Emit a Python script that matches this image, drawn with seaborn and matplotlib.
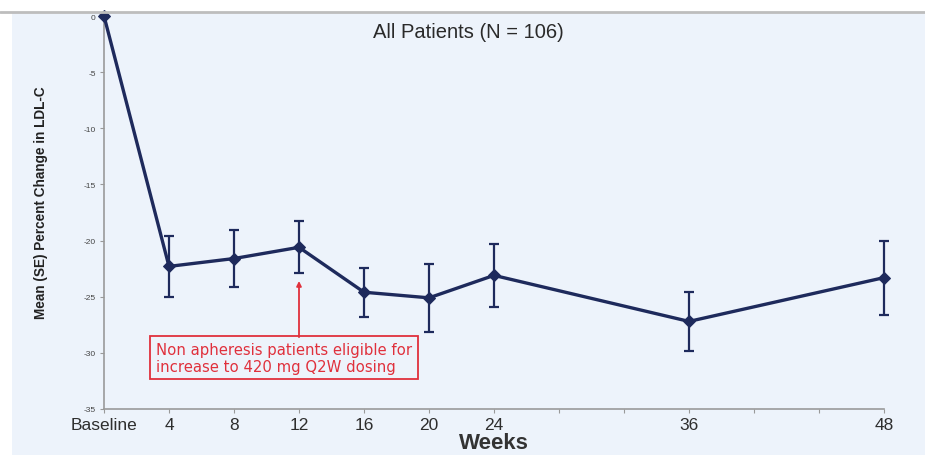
import matplotlib
matplotlib.use("Agg")
import matplotlib.pyplot as plt
from matplotlib.patches import Rectangle
from matplotlib.lines import Line2D
import seaborn as sns
import pandas as pd

# Mean percent change in LDL-C from baseline, with standard errors
weeks = [0, 4, 8, 12, 16, 20, 24, 36, 48]
mean_change = [0.0, -22.3, -21.6, -20.6, -24.6, -25.1, -23.1, -27.2, -23.3]
se = [0.0, 2.7, 2.5, 2.3, 2.2, 3.0, 2.8, 2.6, 3.3]
tick_weeks = [0, 4, 8, 12, 16, 20, 24, 28, 32, 36, 40, 44, 48]
tick_labels = ["Baseline", "4", "8", "12", "16", "20", "24", "", "", "36", "", "", "48"]
y_ticks = [0, -5, -10, -15, -20, -25, -30, -35]

title = "All Patients (N = 106)"
note = "Non apheresis patients eligible for\nincrease to 420 mg Q2W dosing"
note_week = 12

sns.set_theme(style="white")
plt.rcParams["font.family"] = ["Liberation Sans", "DejaVu Sans"]

bg = "#edf3fb"
navy = "#1e2a5c"
red = "#e0303c"

df = pd.DataFrame({"week": weeks, "change": mean_change, "se": se})

fig = plt.figure(figsize=(9.25, 4.56), dpi=100)
fig.patch.set_facecolor("white")
# light panel behind the chart, with a thin grey rule along its top edge
fig.patches.append(Rectangle((12 / 925, 0), 1 - 12 / 925, 1 - 14 / 456,
                             transform=fig.transFigure, facecolor=bg,
                             edgecolor="none", zorder=-10))
fig.lines.append(Line2D([0, 1], [1 - 13 / 456, 1 - 13 / 456],
                        transform=fig.transFigure, color="#bdbdbd", lw=2))

ax = fig.add_axes([104 / 925, 1 - 410 / 456, 780 / 925, 393 / 456])
ax.set_facecolor(bg)

ax.errorbar(df["week"], df["change"], yerr=df["se"], fmt="none",
            ecolor=navy, elinewidth=1.6, capsize=3.5, capthick=1.6,
            clip_on=False, zorder=3)
sns.lineplot(data=df, x="week", y="change", ax=ax, color=navy, lw=2.4,
             marker="D", markersize=6, markeredgecolor=navy,
             clip_on=False, zorder=4)

ax.set_xlim(0, 48)
ax.set_ylim(-35, 0)
ax.set_xticks(tick_weeks)
ax.set_xticklabels(tick_labels, fontsize=12.5, color="#2e2e2e")
ax.set_yticks(y_ticks)
ax.set_yticklabels([str(v) for v in y_ticks], fontsize=6, color="#444444")
ax.tick_params(axis="both", which="major", direction="out", length=3,
               width=0.8, color="#999999", bottom=True, left=True, pad=3)

for side in ("top", "right"):
    ax.spines[side].set_visible(False)
for side in ("left", "bottom"):
    ax.spines[side].set_color("#9a9a9a")
    ax.spines[side].set_linewidth(1.2)

ax.set_xlabel("Weeks", fontsize=16, fontweight="bold", color="#333333",
              labelpad=0)
ax.set_ylabel("Mean (SE) Percent Change in LDL-C", fontsize=9.8,
              fontweight="bold", color="#222222")
ax.yaxis.set_label_coords(-0.072, 0.527)

fig.text(468 / 925, 1 - 32 / 456, title, ha="center", va="center",
         fontsize=14.5, color="#2a2a2a")

# red callout for the dose change at week 12
ax.text(3.2, -30.45, note, ha="left", va="center", fontsize=10.7,
        family="DejaVu Sans", color=red, linespacing=1.15,
        bbox=dict(boxstyle="square,pad=0.38", facecolor="none",
                  edgecolor=red, linewidth=1.3))
ax.annotate("", xy=(note_week, -23.6), xytext=(note_week, -28.6),
            arrowprops=dict(arrowstyle="-|>", color=red, lw=1.3,
                            mutation_scale=7, shrinkA=0, shrinkB=0))

fig.savefig("out.png", dpi=100)
